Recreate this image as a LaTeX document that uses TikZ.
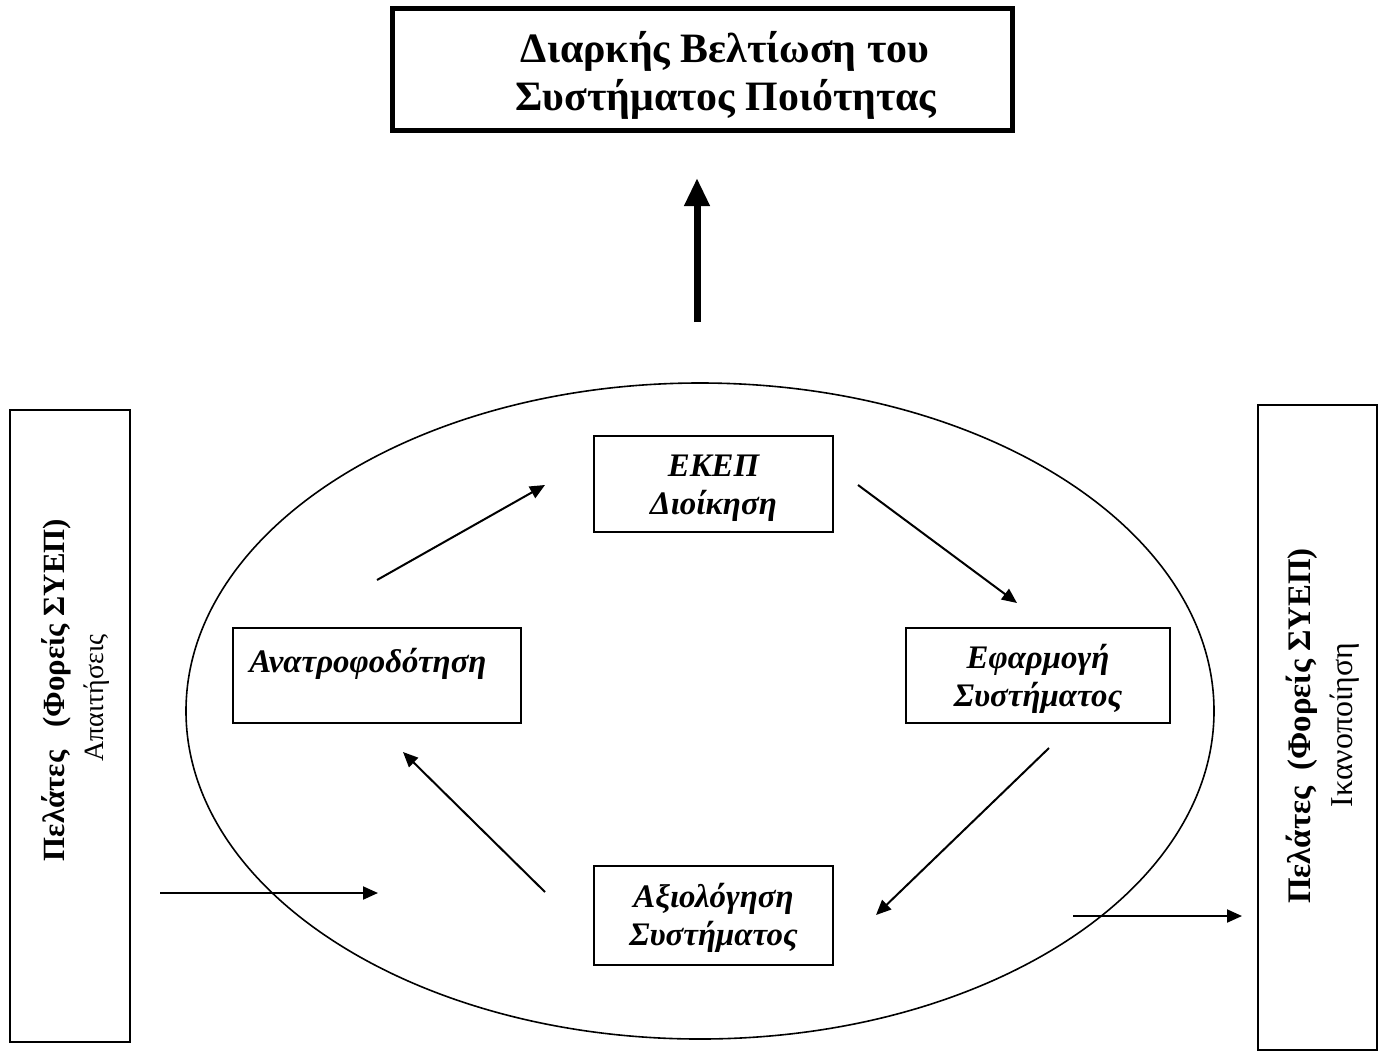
\documentclass[tikz,border=0pt]{standalone}
\usepackage{fontspec}
\setmainfont{Liberation Serif}
\usetikzlibrary{arrows.meta,calc,shapes.geometric}
\begin{document}
\begin{tikzpicture}[x={(1bp,0)},y={(0,-1bp)},
  box/.style={draw, line width=1.6bp, inner sep=0pt},
  intext/.style={inner sep=0pt, align=center, font=\bfseries\itshape\fontsize{33}{38}\selectfont},
  titletext/.style={inner sep=0pt, anchor=base, font=\bfseries\fontsize{42}{48}\selectfont},
  flow/.style={line width=2bp, -{Triangle[length=15bp,width=13bp]}},
  side/.style={rotate=90, inner sep=0pt}
]
\useasboundingbox (0,0) rectangle (1386,1052);
% title
\node[draw, line width=5bp, minimum width=620bp, minimum height=122bp] (title) at (702,69) {};
\node[titletext] (titlet1) at ($(title)+(23,-7)$) {Διαρκής Βελτίωση του};
\node[titletext] (titlet2) at ($(title)+(24,41)$) {Συστήματος Ποιότητας};
% big arrow
\coordinate (upS) at (697,322);
\coordinate (upE) at (697,178);
\draw[line width=7bp, -{Triangle[length=28bp,width=24bp]}] (upS) -- (upE);
% ellipse
\node[draw, line width=1.6bp, ellipse, minimum width=1028bp, minimum height=656bp, inner sep=0pt] (cycle) at (700,711) {};
% inner boxes
\node[box, minimum width=239bp, minimum height=96bp] (ekep) at (713.5,484) {};
\node[intext] (ekept) at ($(ekep)+(0,4)$) {ΕΚΕΠ\\Διοίκηση};
\node[box, minimum width=288bp, minimum height=95bp] (anat) at (377,675.5) {};
\node[intext, anchor=west] (anatt) at ($(anat.west)+(17,-12)$) {Ανατροφοδότηση};
\node[box, minimum width=264bp, minimum height=95bp] (efar) at (1038,675.5) {};
\node[intext] (efart) at ($(efar)+(0,3)$) {Εφαρμογή\\Συστήματος};
\node[box, minimum width=239bp, minimum height=99bp] (axiol) at (713.5,915.5) {};
\node[intext] (axiolt) at ($(axiol)+(0,2)$) {Αξιολόγηση\\Συστήματος};
% side boxes
\node[box, minimum width=120bp, minimum height=632bp] (lbox) at (70,726) {};
\node[box, minimum width=119bp, minimum height=645bp] (rbox) at (1317.5,727.5) {};
\node[side, font=\bfseries\fontsize{31}{37}\selectfont] (lt1) at (56,690) {Πελάτες\ \ \ (Φορείς ΣΥΕΠ)};
\node[side, font=\fontsize{28}{33}\selectfont] (lt2) at (97,698) {Απαιτήσεις};
\node[side, font=\bfseries\fontsize{33}{38}\selectfont] (rt1) at (1302,726) {Πελάτες\ \ (Φορείς ΣΥΕΠ)};
\node[side, font=\fontsize{32}{37}\selectfont] (rt2) at (1345,725) {Ικανοποίηση};
% cycle arrows
\coordinate (a1s) at (377,580); \coordinate (a1e) at (545,485);
\coordinate (a2s) at (858,485); \coordinate (a2e) at (1017,603);
\coordinate (a3s) at (1049,748); \coordinate (a3e) at (876,915);
\coordinate (a4s) at (545,892); \coordinate (a4e) at (403,752);
\coordinate (ins) at (160,893); \coordinate (ine) at (378,893);
\coordinate (outs) at (1073,916); \coordinate (oute) at (1242,916);
\draw[flow] (a1s) -- (a1e);
\draw[flow] (a2s) -- (a2e);
\draw[flow] (a3s) -- (a3e);
\draw[flow] (a4s) -- (a4e);
\draw[flow] (ins) -- (ine);
\draw[flow] (outs) -- (oute);
\end{tikzpicture}
\end{document}
